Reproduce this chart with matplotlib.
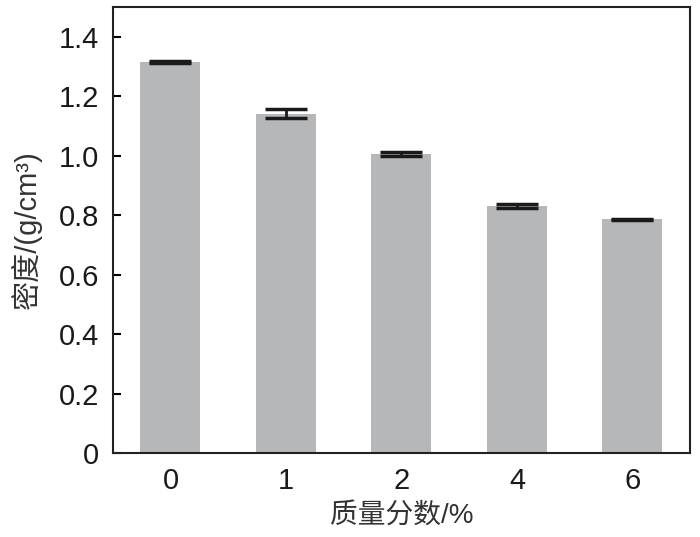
import matplotlib
matplotlib.use('Agg')
import matplotlib.pyplot as plt

plt.rcParams['font.family'] = ['Liberation Sans', 'Noto Sans CJK SC', 'DejaVu Sans']

categories = ['0', '1', '2', '4', '6']
density = [1.316, 1.141, 1.006, 0.831, 0.786]
errors = [0.003, 0.015, 0.008, 0.006, 0.003]

fig = plt.figure(figsize=(7, 5.37), dpi=100)
ax = fig.add_axes([0.161, 0.156, 0.825, 0.831])

x = range(len(categories))
ax.bar(x, density, width=0.52, color='#b6b7b9',
       yerr=errors, capsize=15, error_kw={'elinewidth': 2, 'capthick': 2.5, 'ecolor': '#1a1a1a'})

ax.set_xlim(-0.5, 4.5)
ax.set_ylim(0, 1.5)
ax.set_xticks(list(x))
ax.set_xticklabels(categories)
ax.set_yticks([0, 0.2, 0.4, 0.6, 0.8, 1.0, 1.2, 1.4])
ax.set_yticklabels(['0', '0.2', '0.4', '0.6', '0.8', '1.0', '1.2', '1.4'])
ax.tick_params(axis='y', direction='in', length=6, width=1.5, labelsize=21, pad=10,
               labelcolor='#1a1a1a')
ax.tick_params(axis='x', length=0, labelsize=21, pad=10, labelcolor='#1a1a1a')
for s in ax.spines.values():
    s.set_linewidth(1.5)
    s.set_color('#222222')

ax.set_xlabel('质量分数/%', fontsize=20, color='#333333', labelpad=6)
ax.set_ylabel('密度/(g/cm³)', fontsize=21, color='#333333', labelpad=12)

plt.savefig('out.png', dpi=100)
